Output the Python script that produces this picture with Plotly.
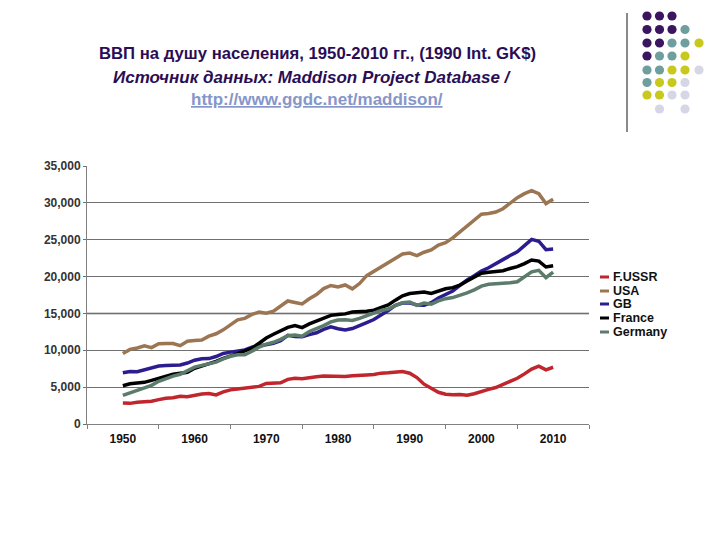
import plotly.graph_objects as go

years = list(range(1950, 2011))

ussr = [2.84, 2.80, 2.94, 3.02, 3.10, 3.31, 3.50, 3.55, 3.75, 3.70,
        3.95, 4.08, 4.13, 3.95, 4.35, 4.63, 4.75, 4.90, 5.05, 5.10,
        5.50, 5.60, 5.60, 6.06, 6.20, 6.14, 6.30, 6.40, 6.50, 6.45,
        6.43, 6.45, 6.55, 6.65, 6.65, 6.72, 6.90, 6.95, 7.05, 7.11,
        6.89, 6.30, 5.40, 4.90, 4.30, 4.05, 3.96, 4.00, 3.89, 4.10,
        4.45, 4.70, 4.95, 5.40, 5.80, 6.20, 6.80, 7.45, 7.85, 7.35, 7.70]
usa = [9.56, 10.12, 10.32, 10.61, 10.36, 10.90, 10.91, 10.92, 10.63, 11.23,
       11.33, 11.40, 11.91, 12.24, 12.77, 13.42, 14.13, 14.33, 14.86, 15.18,
       15.03, 15.30, 15.94, 16.69, 16.49, 16.28, 16.98, 17.57, 18.37, 18.79,
       18.58, 18.86, 18.33, 19.05, 20.12, 20.72, 21.24, 21.79, 22.50, 23.06,
       23.20, 22.85, 23.30, 23.62, 24.28, 24.60, 25.25, 26.08, 26.83, 27.70,
       28.47, 28.55, 28.75, 29.20, 30.00, 30.70, 31.25, 31.66, 31.25, 29.90, 30.49]
gb = [6.94, 7.12, 7.09, 7.35, 7.62, 7.87, 7.93, 8.02, 8.00, 8.27,
      8.65, 8.86, 8.87, 9.15, 9.57, 9.75, 9.89, 10.05, 10.41, 10.55,
      10.77, 10.94, 11.29, 12.03, 11.86, 11.85, 12.12, 12.38, 12.83, 13.17,
      12.93, 12.75, 12.95, 13.40, 13.75, 14.17, 14.75, 15.40, 16.10, 16.40,
      16.43, 16.15, 16.10, 16.45, 17.10, 17.55, 18.05, 18.80, 19.55, 20.10,
      20.75, 21.20, 21.70, 22.30, 22.85, 23.35, 24.20, 25.05, 24.80, 23.65, 23.75]
france = [5.19, 5.46, 5.56, 5.65, 5.91, 6.20, 6.44, 6.75, 6.88, 7.00,
          7.55, 7.85, 8.20, 8.50, 8.90, 9.17, 9.55, 9.93, 10.30, 10.95,
          11.66, 12.17, 12.66, 13.11, 13.36, 13.08, 13.57, 13.93, 14.32, 14.74,
          14.85, 14.94, 15.20, 15.20, 15.30, 15.45, 15.80, 16.15, 16.80, 17.40,
          17.70, 17.80, 17.90, 17.70, 18.00, 18.35, 18.50, 18.85, 19.40, 19.95,
          20.45, 20.60, 20.75, 20.80, 21.10, 21.35, 21.75, 22.25, 22.10, 21.30, 21.48]
germany = [3.88, 4.21, 4.55, 4.90, 5.25, 5.80, 6.18, 6.49, 6.74, 7.18,
           7.71, 7.95, 8.22, 8.39, 8.82, 9.19, 9.39, 9.40, 9.86, 10.44,
           10.84, 11.08, 11.48, 11.97, 12.06, 11.90, 12.55, 12.94, 13.35, 13.85,
           14.11, 14.15, 14.04, 14.33, 14.75, 15.05, 15.40, 15.60, 16.05, 16.45,
           16.55, 16.10, 16.40, 16.25, 16.70, 17.00, 17.15, 17.45, 17.80, 18.20,
           18.70, 18.95, 19.00, 19.00, 19.15, 19.30, 20.00, 20.65, 20.85, 19.85, 20.60]

series_names = ["F.USSR", "USA", "GB", "France", "Germany"]
series_values = [ussr, usa, gb, france, germany]
series_colors = ["#c0262d", "#9c7652", "#2b1d8f", "#000000", "#5b7b6b"]

x_labels = [str(y) for y in range(1950, 2011, 10)]
y_ticks = list(range(0, 35001, 5000))

FONT = "Liberation Sans, Arial, sans-serif"

fig = go.Figure()
for name, vals, col in zip(series_names, series_values, series_colors):
    fig.add_trace(go.Scatter(x=years, y=[v * 1000 for v in vals], mode="lines",
                             name=name, line=dict(color=col, width=3.5),
                             showlegend=False))

# plot area in pixels
L, R, T, B = 87, 589, 166, 424
W, H = 720, 540

def px(xp):
    return (xp - L) / (R - L)

def py(yp):
    return (B - yp) / (B - T)

shapes = []
annotations = []

# legend built from annotations
leg_y = [277, 291, 304, 318, 332]
for name, col, yy in zip(series_names, series_colors, leg_y):
    shapes.append(dict(type="line", xref="paper", yref="paper",
                       x0=px(600), x1=px(609), y0=py(yy), y1=py(yy),
                       line=dict(color=col, width=3)))
    annotations.append(dict(xref="paper", yref="paper", x=px(611), y=py(yy),
                            xanchor="left", yanchor="middle", showarrow=False,
                            text="<b>" + name + "</b>",
                            font=dict(family=FONT, size=12.5, color="#111111")))

# titles
title_col = "#2b0d54"
annotations.append(dict(xref="paper", yref="paper", x=px(317), y=py(53),
                        xanchor="center", yanchor="middle", showarrow=False,
                        text="<b>ВВП на душу населения, 1950-2010 гг., (1990 Int. GK$)</b>",
                        font=dict(family=FONT, size=16.7, color=title_col)))
annotations.append(dict(xref="paper", yref="paper", x=px(312), y=py(77),
                        xanchor="center", yanchor="middle", showarrow=False,
                        text="<b><i>Источник данных: Maddison Project Database /</i></b>",
                        font=dict(family=FONT, size=17, color=title_col)))
annotations.append(dict(xref="paper", yref="paper", x=px(317), y=py(99),
                        xanchor="center", yanchor="middle", showarrow=False,
                        text="<b><u>http://www.ggdc.net/maddison/</u></b>",
                        font=dict(family=FONT, size=17, color="#8796c8")))

# lighter, thicker gridline at 15,000 as in the reference
shapes.append(dict(type="line", xref="paper", yref="y", x0=0, x1=1, y0=15000, y1=15000,
                   line=dict(color="#a8a8a8", width=2), layer="below"))

# decoration: vertical bar and dot grid
shapes.append(dict(type="line", xref="paper", yref="paper",
                   x0=px(627), x1=px(627), y0=py(13), y1=py(132),
                   line=dict(color="#8a8a8a", width=2)))
P, Tq, Y, Lv = "#3b1560", "#6f9e9e", "#c8c81e", "#d6d6e6"
dot_cols_x = [647, 659.5, 672, 685, 699]
dot_rows = [
    (16, [P, P, P, None, None]),
    (29.5, [P, P, P, Tq, None]),
    (43, [P, P, Tq, Tq, Y]),
    (56, [P, Tq, Tq, Y, None]),
    (70, [Tq, Tq, Y, Y, Lv]),
    (82.5, [Tq, Y, Y, Lv, None]),
    (95, [Y, Y, Lv, Lv, None]),
    (109, [None, Lv, None, Lv, None]),
]
r = 4.6
for yy, cols in dot_rows:
    for xx, c in zip(dot_cols_x, cols):
        if c is None:
            continue
        shapes.append(dict(type="circle", xref="paper", yref="paper",
                           x0=px(xx - r), x1=px(xx + r), y0=py(yy + r), y1=py(yy - r),
                           fillcolor=c, line=dict(width=0)))

fig.update_layout(
    width=W, height=H,
    margin=dict(l=L, r=W - R, t=T, b=H - B, autoexpand=False),
    paper_bgcolor="white", plot_bgcolor="white",
    font=dict(family=FONT, size=12, color="#222222"),
    shapes=shapes, annotations=annotations,
    showlegend=False,
)
fig.update_xaxes(range=[1945, 2015], tickvals=[int(s) for s in x_labels], ticktext=x_labels,
                 ticks="", showgrid=False, zeroline=False,
                 showline=True, linecolor="#808080", linewidth=1,
                 tickfont=dict(family=FONT, size=12, color="#111111", weight="bold"),
                 ticklabelstandoff=4,
                 minor=dict(tick0=1945, dtick=10, ticks="outside", ticklen=4,
                            tickcolor="#808080", showgrid=False))
fig.update_yaxes(range=[0, 35000], tickvals=y_ticks, tickformat=",d",
                 ticks="outside", ticklen=3, tickcolor="#707070",
                 showgrid=True, gridcolor="#707070", gridwidth=1, zeroline=False,
                 showline=True, linecolor="#808080", linewidth=1,
                 tickfont=dict(family=FONT, size=12, color="#333333", weight="bold"))

fig.write_html("out.html", config={"displayModeBar": False},
               post_script="document.body.style.margin='0';document.body.style.overflow='hidden';")
